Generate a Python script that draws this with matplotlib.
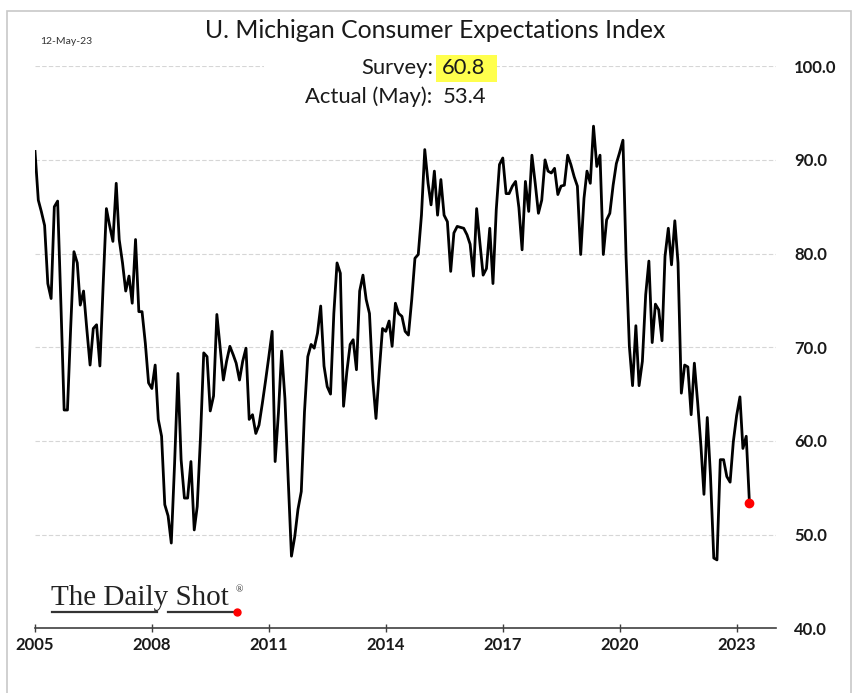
import matplotlib
matplotlib.use("Agg")
import matplotlib.pyplot as plt
from matplotlib.ticker import FormatStrFormatter
from matplotlib.patches import Rectangle
from matplotlib.lines import Line2D
import pandas as pd

# ---------------- data (monthly, Jan 2005 - May 2023) ----------------
y2005 = [90.9, 85.7, 84.5, 83.0, 76.8, 75.2, 85.0, 85.6, 74.5, 63.3, 63.3, 72.0]
y2006 = [80.2, 79.0, 74.5, 76.0, 72.0, 68.1, 72.0, 72.4, 68.0, 76.5, 84.8, 83.0]
y2007 = [81.3, 87.5, 81.5, 79.0, 76.0, 77.6, 74.7, 81.5, 73.8, 73.8, 70.4, 66.2]
y2008 = [65.6, 68.1, 62.3, 60.5, 53.2, 52.0, 49.1, 57.6, 67.2, 58.0, 53.9, 53.9]
y2009 = [57.8, 50.5, 53.0, 60.5, 69.4, 69.0, 63.2, 64.8, 73.5, 70.0, 66.5, 68.5]
y2010 = [70.1, 69.2, 68.3, 66.5, 68.5, 69.9, 62.3, 62.8, 60.8, 61.7, 64.0, 66.4]
y2011 = [69.0, 71.7, 57.8, 63.0, 69.6, 64.5, 56.0, 47.7, 49.8, 52.7, 54.6, 63.1]
y2012 = [69.0, 70.3, 69.9, 71.5, 74.4, 68.0, 65.8, 65.0, 73.6, 79.0, 77.9, 63.7]
y2013 = [67.4, 70.3, 70.8, 67.6, 76.0, 77.7, 75.1, 73.6, 66.5, 62.4, 67.5, 72.0]
y2014 = [71.7, 72.8, 70.1, 74.7, 73.6, 73.3, 71.7, 71.3, 75.1, 79.5, 79.9, 84.1]
y2015 = [91.1, 87.5, 85.2, 88.8, 84.1, 87.9, 84.1, 83.4, 78.1, 82.2, 82.9, 82.8]
y2016 = [82.7, 82.0, 81.0, 77.6, 84.8, 81.1, 77.7, 78.4, 82.7, 76.8, 84.7, 89.5]
y2017 = [90.2, 86.4, 86.4, 87.2, 87.7, 84.9, 80.4, 87.7, 84.5, 90.5, 87.5, 84.3]
y2018 = [85.7, 90.0, 88.8, 88.6, 89.1, 86.3, 87.2, 87.3, 90.5, 89.5, 88.2, 87.2]
y2019 = [79.9, 85.9, 88.8, 87.5, 93.6, 89.3, 90.5, 79.9, 83.6, 84.3, 87.3, 89.6]
y2020 = [90.8, 92.1, 79.7, 70.1, 65.9, 72.3, 65.9, 68.5, 75.6, 79.2, 70.5, 74.6]
y2021 = [74.0, 70.7, 79.7, 82.7, 78.8, 83.5, 79.0, 65.1, 68.1, 67.9, 62.8, 68.3]
y2022 = [64.1, 59.4, 54.3, 62.5, 56.3, 47.5, 47.3, 58.0, 58.0, 56.2, 55.6, 59.9]
y2023 = [62.7, 64.7, 59.2, 60.5, 53.4]

values = (y2005 + y2006 + y2007 + y2008 + y2009 + y2010 + y2011 + y2012 + y2013
          + y2014 + y2015 + y2016 + y2017 + y2018 + y2019 + y2020 + y2021 + y2022 + y2023)
start_month = "2005-01-01"
tick_years = [2005, 2008, 2011, 2014, 2017, 2020, 2023]
y_ticks = [40, 50, 60, 70, 80, 90, 100]
title = "U. Michigan Consumer Expectations Index"
date_stamp = "12-May-23"
survey = 60.8
actual = 53.4

# ---------------- layout helpers ----------------
W, H = 858, 693
plt.rcParams["font.family"] = ["Lato", "DejaVu Sans"]
fig = plt.figure(figsize=(W / 100, H / 100), dpi=100)
fig.patch.set_facecolor("white")


def fx(x):
    return x / W


def fy(y):
    return 1 - y / H


ax = fig.add_axes([fx(35), fy(628.3), fx(776) - fx(35), fy(66.2) - fy(628.3)])

dates = pd.date_range(start_month, periods=len(values), freq="MS")
ax.plot(dates, values, color="black", lw=2.0, solid_joinstyle="round", zorder=3)
ax.plot(dates[-1:], values[-1:], "o", color="#ff0000", ms=6, zorder=4)

ax.set_xlim(pd.Timestamp("2005-01-01"), pd.Timestamp("2024-01-05"))
ax.set_ylim(min(y_ticks), max(y_ticks))
ax.set_xticks([pd.Timestamp(f"{y}-01-01") for y in tick_years])
ax.set_xticklabels([str(y) for y in tick_years])
ax.set_yticks(y_ticks)
ax.yaxis.tick_right()
ax.yaxis.set_major_formatter(FormatStrFormatter("%.1f"))

for s in ["top", "left", "right"]:
    ax.spines[s].set_visible(False)
ax.spines["bottom"].set_color("#404040")
ax.spines["bottom"].set_linewidth(1.2)

ax.tick_params(axis="x", direction="inout", length=6, width=1, color="#404040",
               pad=3, labelsize=12)
ax.tick_params(axis="y", length=0, pad=13, labelsize=12)
for lab in ax.get_xticklabels() + ax.get_yticklabels():
    lab.set_fontweight("bold")
    lab.set_color("#1a1a1a")

ax.yaxis.grid(True, color="#d6d6d6", linestyle=(0, (4, 2)), linewidth=0.8)
ax.set_axisbelow(True)

# ---------------- frame ----------------
fig.add_artist(Rectangle((fx(7), fy(705)), fx(851) - fx(7), fy(11) - fy(705),
                         transform=fig.transFigure, fill=False,
                         edgecolor="#c8c8c8", lw=1.2, clip_on=False))

# ---------------- texts ----------------
fig.text(fx(435), fy(31), title, ha="center", va="center", fontsize=17.8, color="#1a1a1a")
fig.text(fx(40), fy(41), date_stamp, ha="left", va="center", fontsize=7.5, color="#333333")

fig.add_artist(Rectangle((fx(264), fy(110)), fx(497) - fx(264), fy(50) - fy(110),
                         transform=fig.transFigure, facecolor="white", edgecolor="none",
                         zorder=1))
fig.add_artist(Rectangle((fx(436), fy(81.7)), fx(497.3) - fx(436), fy(55) - fy(81.7),
                         transform=fig.transFigure, facecolor="#ffff4d", edgecolor="none",
                         zorder=2))
fs_ann = 15.8
fig.text(fx(433), fy(68), "Survey:", ha="right", va="center", fontsize=fs_ann,
         color="#1a1a1a", zorder=3)
fig.text(fx(442), fy(68), f"{survey:.1f}", ha="left", va="center", fontsize=fs_ann,
         color="#1a1a1a", zorder=3)
fig.text(fx(432), fy(97), "Actual (May):", ha="right", va="center", fontsize=fs_ann,
         color="#1a1a1a", zorder=3)
fig.text(fx(443), fy(97), f"{actual:.1f}", ha="left", va="center", fontsize=fs_ann,
         color="#1a1a1a", zorder=3)

# ---------------- logo ----------------
fig.text(fx(51), fy(605), "The Daily Shot", family="Liberation Serif", fontsize=21,
         ha="left", va="baseline", color="#222222")
fig.text(fx(236), fy(592), "\u00ae", family="Liberation Serif", fontsize=7,
         ha="left", va="baseline", color="#222222")
fig.add_artist(Line2D([fx(52), fx(157)], [fy(611.7), fy(611.7)], color="#333333", lw=1.6))
fig.add_artist(Line2D([fx(168), fx(235)], [fy(611.7), fy(611.7)], color="#333333", lw=1.6))
fig.add_artist(Line2D([fx(237)], [fy(611.7)], marker="o", ms=5, color="#ff0000", lw=0))

fig.savefig("out.png", dpi=100, facecolor="white")
